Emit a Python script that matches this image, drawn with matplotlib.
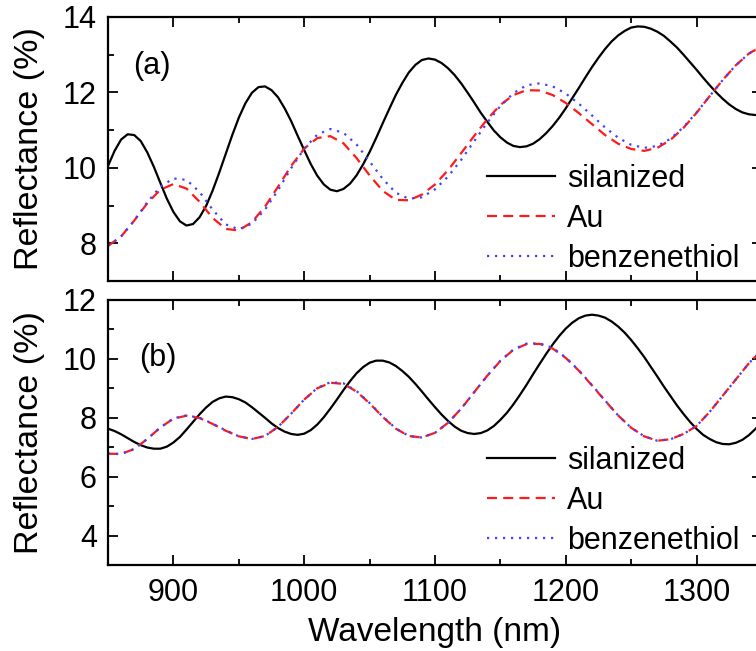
#!/usr/bin/env python

#===========================================================================
#
# Reflectance spectra of the sensor surface, before and after coating
#
#===========================================================================

import numpy as np
import matplotlib
matplotlib.use('Agg')
import matplotlib.pyplot as plt
from matplotlib.ticker import MultipleLocator

# wavelength grids (nm)
wavelength = np.arange(850, 1351, 10)
wavelengthFine = np.arange(850, 1351, 5)

# (a) reflectance (%) - silanized on the fine grid
silanizedA = [10.05, 10.45, 10.75, 10.89, 10.87, 10.71, 10.41, 10.03, 9.60, 9.18,
              8.83, 8.58, 8.47, 8.51, 8.69, 8.99, 9.40, 9.87, 10.37, 10.87,
              11.33, 11.71, 11.99, 12.14, 12.16, 12.06, 11.87, 11.58, 11.24, 10.85,
              10.47, 10.10, 9.79, 9.56, 9.42, 9.38, 9.44, 9.58, 9.80, 10.09,
              10.42, 10.79, 11.18, 11.56, 11.93, 12.25, 12.53, 12.73, 12.86, 12.90,
              12.87, 12.78, 12.64, 12.46, 12.24, 11.99, 11.73, 11.46, 11.22, 10.99,
              10.81, 10.67, 10.58, 10.55, 10.57, 10.64, 10.76, 10.92, 11.11, 11.33,
              11.58, 11.85, 12.12, 12.40, 12.67, 12.92, 13.15, 13.35, 13.51, 13.63,
              13.72, 13.75, 13.74, 13.69, 13.61, 13.50, 13.35, 13.19, 13.00, 12.80,
              12.60, 12.39, 12.19, 12.00, 11.83, 11.68, 11.56, 11.47, 11.42, 11.40,
              11.41]
auA = [7.93, 8.18, 8.60, 9.06, 9.42, 9.57, 9.45, 9.10, 8.67, 8.38,
       8.34, 8.56, 8.97, 9.50, 10.05, 10.51, 10.79, 10.84, 10.65, 10.26,
       9.80, 9.39, 9.15, 9.14, 9.29, 9.56, 9.94, 10.39, 10.85, 11.29,
       11.67, 11.93, 12.06, 12.05, 11.93, 11.72, 11.45, 11.16, 10.87, 10.64,
       10.50, 10.45, 10.53, 10.74, 11.06, 11.46, 11.90, 12.33, 12.72, 13.03,
       13.23]
benzA = [7.93, 8.18, 8.60, 9.09, 9.50, 9.72, 9.68, 9.36, 8.89, 8.50,
         8.37, 8.52, 8.89, 9.41, 9.99, 10.51, 10.88, 11.03, 10.93, 10.62,
         10.17, 9.71, 9.34, 9.18, 9.22, 9.43, 9.77, 10.21, 10.71, 11.20,
         11.64, 11.98, 12.19, 12.24, 12.16, 11.97, 11.70, 11.39, 11.07, 10.80,
         10.61, 10.53, 10.58, 10.77, 11.08, 11.47, 11.90, 12.33, 12.72, 13.03,
         13.23]

# (b) reflectance (%) - silanized on the fine grid
silanizedB = [7.63, 7.55, 7.44, 7.31, 7.18, 7.07, 6.99, 6.95, 6.95, 7.02,
              7.16, 7.35, 7.60, 7.86, 8.12, 8.35, 8.54, 8.66, 8.72, 8.70,
              8.63, 8.52, 8.36, 8.18, 8.00, 7.81, 7.65, 7.53, 7.45, 7.42,
              7.46, 7.58, 7.77, 8.02, 8.31, 8.62, 8.94, 9.24, 9.51, 9.72,
              9.87, 9.94, 9.94, 9.88, 9.76, 9.59, 9.39, 9.15, 8.89, 8.62,
              8.36, 8.11, 7.89, 7.70, 7.56, 7.48, 7.45, 7.48, 7.57, 7.72,
              7.93, 8.17, 8.46, 8.78, 9.12, 9.48, 9.83, 10.17, 10.49, 10.78,
              11.03, 11.23, 11.38, 11.47, 11.50, 11.47, 11.40, 11.27, 11.10, 10.89,
              10.64, 10.36, 10.06, 9.73, 9.40, 9.06, 8.74, 8.42, 8.13, 7.86,
              7.62, 7.42, 7.28, 7.17, 7.11, 7.10, 7.15, 7.25, 7.41, 7.62,
              7.86]
auB = [6.78, 6.77, 6.94, 7.28, 7.67, 7.97, 8.07, 7.99, 7.79, 7.56,
       7.37, 7.28, 7.38, 7.69, 8.14, 8.62, 9.00, 9.19, 9.15, 8.89,
       8.49, 8.03, 7.63, 7.38, 7.33, 7.49, 7.83, 8.31, 8.87, 9.43,
       9.93, 10.31, 10.50, 10.51, 10.35, 10.03, 9.60, 9.10, 8.58, 8.08,
       7.66, 7.37, 7.22, 7.27, 7.45, 7.72, 8.20, 8.75, 9.30, 9.85,
       10.30]
benzB = [6.78, 6.77, 6.94, 7.28, 7.67, 7.98, 8.08, 8.00, 7.80, 7.57,
         7.37, 7.28, 7.38, 7.69, 8.14, 8.62, 9.01, 9.21, 9.17, 8.91,
         8.50, 8.04, 7.64, 7.38, 7.33, 7.49, 7.83, 8.31, 8.87, 9.43,
         9.94, 10.32, 10.52, 10.53, 10.37, 10.05, 9.61, 9.11, 8.59, 8.08,
         7.66, 7.37, 7.22, 7.27, 7.45, 7.72, 8.20, 8.75, 9.30, 9.85,
         10.30]

seriesNames = ['silanized', 'Au', 'benzenethiol']
panelLabels = ['(a)', '(b)']
yLimits = [(7, 14), (3, 12)]

def main():
    plt.rcParams['font.family'] = ['Liberation Sans', 'DejaVu Sans']
    doPlot()

########################################################################
# Plot

def doPlot():

    fig = plt.figure(figsize=(7.56, 6.51), dpi=100)

    # axes run a little past the right edge of the canvas
    axA = fig.add_axes([0.1429, 0.5684, 0.865, 0.4055])
    axB = fig.add_axes([0.1429, 0.1321, 0.865, 0.4071])

    panels = [(axA, silanizedA, auA, benzA),
              (axB, silanizedB, auB, benzB)]
    legendY = [0.235, 0.242]

    for ii, (ax, sil, au, benz) in enumerate(panels):
        ax.plot(wavelengthFine, sil, color='black', lw=1.6, label=seriesNames[0])
        ax.plot(wavelength, au, color='#ff1a1a', lw=1.6,
                dashes=(4.5, 2.8), label=seriesNames[1])
        ax.plot(wavelength, benz, color='#4040ff', lw=1.6,
                dashes=(1.0, 2.6), label=seriesNames[2])

        ax.set_xlim(850, 1350)
        ax.set_ylim(*yLimits[ii])
        ax.xaxis.set_major_locator(MultipleLocator(100))
        ax.xaxis.set_minor_locator(MultipleLocator(50))
        ax.yaxis.set_major_locator(MultipleLocator(2))
        ax.yaxis.set_minor_locator(MultipleLocator(1))
        ax.tick_params(which='both', direction='in', top=True, right=True,
                       width=1.3, labelsize=22)
        ax.tick_params(axis='y', pad=8)
        ax.tick_params(axis='x', pad=9)
        ax.tick_params(which='major', length=7)
        ax.tick_params(which='minor', length=4)
        for sp in ax.spines.values():
            sp.set_linewidth(1.6)

        ax.set_ylabel('Reflectance (%)', fontsize=24.5)
        ax.yaxis.set_label_coords(-0.096, 0.5)

        ax.legend(loc='center left', bbox_to_anchor=(0.58, legendY[ii]),
                  frameon=False, fontsize=22, handlelength=2.2,
                  handletextpad=0.4, labelspacing=0.33,
                  borderpad=0, borderaxespad=0)

    axA.tick_params(labelbottom=False)
    axA.text(0.038, 0.815, panelLabels[0], transform=axA.transAxes,
             fontsize=22, va='center', ha='left')
    axB.text(0.048, 0.78, panelLabels[1], transform=axB.transAxes,
             fontsize=22, va='center', ha='left')

    axB.set_xlabel('Wavelength (nm)', fontsize=24)
    axB.xaxis.set_label_coords(0.5, -0.196)

    fig.savefig('out.png', dpi=100)

########################################################################
# Run - entry point

if __name__ == "__main__":
    main()
